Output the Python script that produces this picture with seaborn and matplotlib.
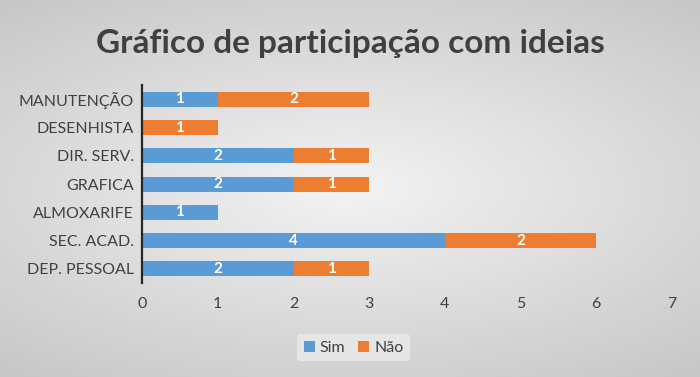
import numpy as np
import pandas as pd
import seaborn as sns
import matplotlib.pyplot as plt

setores = ["MANUTENÇÃO", "DESENHISTA", "DIR. SERV.", "GRAFICA",
           "ALMOXARIFE", "SEC. ACAD.", "DEP. PESSOAL"]
sim = [1, 0, 2, 2, 1, 4, 2]
nao = [2, 1, 1, 1, 0, 2, 1]

df = pd.DataFrame({"setor": setores, "Sim": sim, "Não": nao})
df["total"] = df["Sim"] + df["Não"]

azul = "#5B9BD5"
laranja = "#ED7D31"
cinza = "#404040"

plt.rcParams["font.family"] = ["Lato", "DejaVu Sans"]

fig = plt.figure(figsize=(7, 3.77), dpi=100)

# fundo em degradê cinza
bg = fig.add_axes([0, 0, 1, 1], zorder=-10)
yy, xx = np.mgrid[-1:1:200j, -1:1:380j]
r = np.sqrt((xx * 0.9) ** 2 + (yy * 1.1) ** 2)
bg.imshow(0.95 - 0.17 * np.clip(r, 0, 1.4) / 1.4, cmap="gray", vmin=0, vmax=1,
          aspect="auto", extent=[0, 1, 0, 1])
bg.axis("off")

ax = fig.add_axes([0.203, 0.249, 0.757, 0.525])
ax.patch.set_alpha(0)

sns.barplot(data=df, y="setor", x="total", color=laranja, saturation=1,
            width=0.53, orient="h", ax=ax, label="Não")
sns.barplot(data=df, y="setor", x="Sim", color=azul, saturation=1,
            width=0.53, orient="h", ax=ax, label="Sim")

for i, row in df.iterrows():
    if row["Sim"] > 0:
        ax.text(row["Sim"] / 2, i, str(row["Sim"]), ha="center", va="center",
                color="white", fontsize=11, fontweight="bold")
    if row["Não"] > 0:
        ax.text(row["Sim"] + row["Não"] / 2, i, str(row["Não"]), ha="center",
                va="center", color="white", fontsize=11, fontweight="bold")

ax.set_xlim(0, 7)
ax.set_xticks(range(8))
ax.set_xlabel("")
ax.set_ylabel("")
for s in ["top", "right", "bottom"]:
    ax.spines[s].set_visible(False)
ax.spines["left"].set_color("#262626")
ax.spines["left"].set_linewidth(1.6)
ax.tick_params(axis="both", length=0, colors=cinza, labelsize=11.5)
ax.tick_params(axis="x", pad=10)
ax.tick_params(axis="y", pad=6)

handles, labels = ax.get_legend_handles_labels()
if ax.get_legend() is not None:
    ax.get_legend().remove()
order = [labels.index("Sim"), labels.index("Não")]
leg = fig.legend([handles[k] for k in order], [labels[k] for k in order],
                 loc="center", bbox_to_anchor=(0.505, 0.078), ncol=2,
                 frameon=True, fontsize=11.5, handlelength=0.7, handleheight=0.7,
                 handletextpad=0.3, columnspacing=0.8, labelcolor=cinza)
leg.get_frame().set_facecolor("#ebebeb")
leg.get_frame().set_edgecolor("none")
leg.get_frame().set_alpha(0.8)

fig.text(0.5, 0.885, "Gráfico de participação com ideias", ha="center",
         va="center", fontsize=24, fontweight="bold", color=cinza)

fig.savefig("out.png", dpi=100)
